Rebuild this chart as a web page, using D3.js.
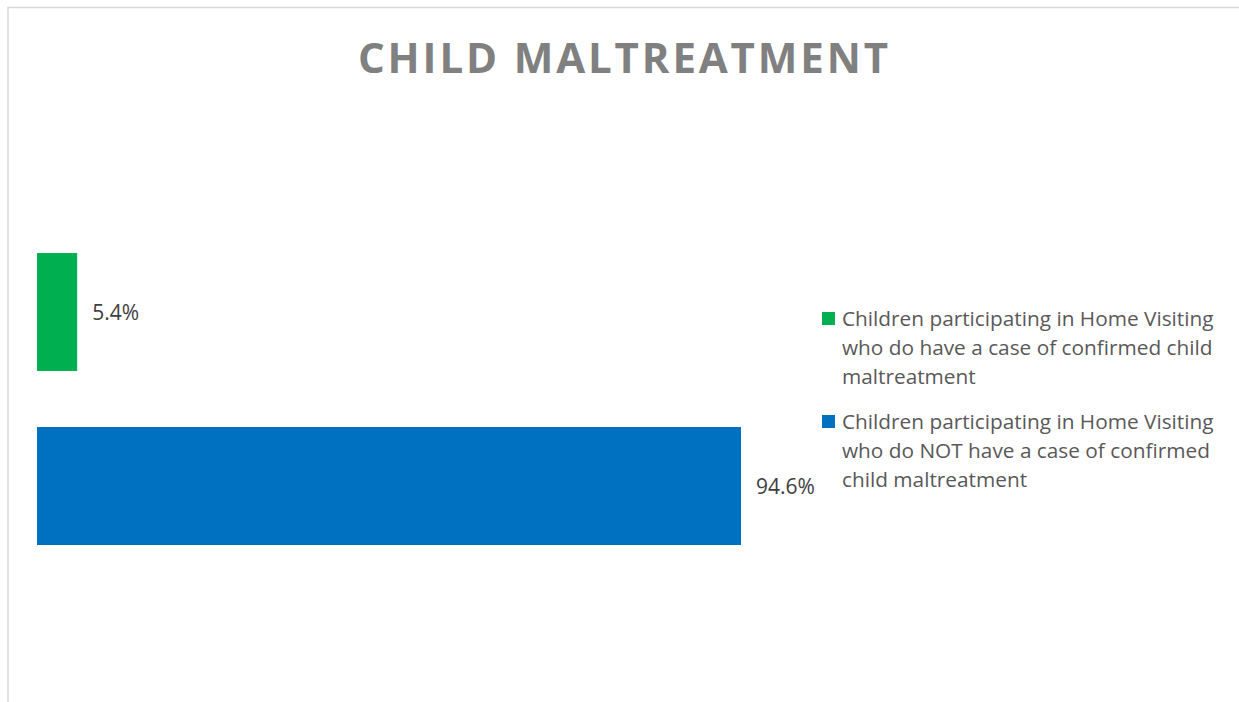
<!DOCTYPE html>
<meta charset="utf-8">
<script src="https://d3js.org/d3.v7.min.js"></script>
<style type="text/css">
body { margin: 0; background: #fff; }
text { font-family: "Open Sans", "DejaVu Sans", sans-serif; }
.label { fill: #404040; font-size: 21px; }
.legend text { fill: #595959; font-size: 20.8px; }
</style>
<body>
<script>

var categories = ["yes", "no"];
var values = [5.4, 94.6];
var labels = ["5.4%", "94.6%"];
var colors = ["#00b050", "#0070c0"];
var legendLines = [
  ["Children participating in Home Visiting", "who do have a case of confirmed child", "maltreatment"],
  ["Children participating in Home Visiting", "who do NOT have a case of confirmed", "child maltreatment"]
];

var width = 1239, height = 702;

var svg = d3.select("body").append("svg")
    .attr("width", width)
    .attr("height", height);

// chart border (only top and left visible)
svg.append("rect")
    .attr("x", 8).attr("y", 7.5)
    .attr("width", 1300).attr("height", 800)
    .style("fill", "none")
    .style("stroke", "#d9d9d9")
    .style("stroke-width", 1.5);

// title
svg.append("text")
    .attr("x", 358)
    .attr("y", 73)
    .attr("textLength", 530)
    .attr("lengthAdjust", "spacing")
    .style("font-weight", "bold")
    .style("font-size", "42px")
    .style("fill", "#808080")
    .text("CHILD MALTREATMENT");

// scales
var xScale = d3.scaleLinear().domain([0, 100]).range([37, 781.2]);
var yScale = d3.scaleBand().domain(categories).range([225, 573])
    .paddingInner(0.322).paddingOuter(0.161);

// bars
svg.selectAll(".bar").data(categories).enter().append("rect")
    .attr("class", "bar")
    .attr("x", xScale(0))
    .attr("y", function(d) { return yScale(d); })
    .attr("width", function(d, i) { return xScale(values[i]) - xScale(0); })
    .attr("height", yScale.bandwidth())
    .style("fill", function(d, i) { return colors[i]; });

// data labels
svg.selectAll(".label").data(categories).enter().append("text")
    .attr("class", "label")
    .attr("x", function(d, i) { return xScale(values[i]) + 15; })
    .attr("y", function(d) { return yScale(d) + yScale.bandwidth() / 2 + 8; })
    .text(function(d, i) { return labels[i]; });

// legend
var legendTop = [312, 415];
var legend = svg.selectAll(".legend").data(categories).enter().append("g")
    .attr("class", "legend")
    .each(function(d, i) {
        var g = d3.select(this);
        g.append("rect").attr("x", 822).attr("y", legendTop[i])
            .attr("width", 13).attr("height", 13)
            .style("fill", colors[i]);
        legendLines[i].forEach(function(line, j) {
            g.append("text").attr("x", 842).attr("y", legendTop[i] + 14 + j * 29).text(line);
        });
    });

</script>
</body>
</html>
